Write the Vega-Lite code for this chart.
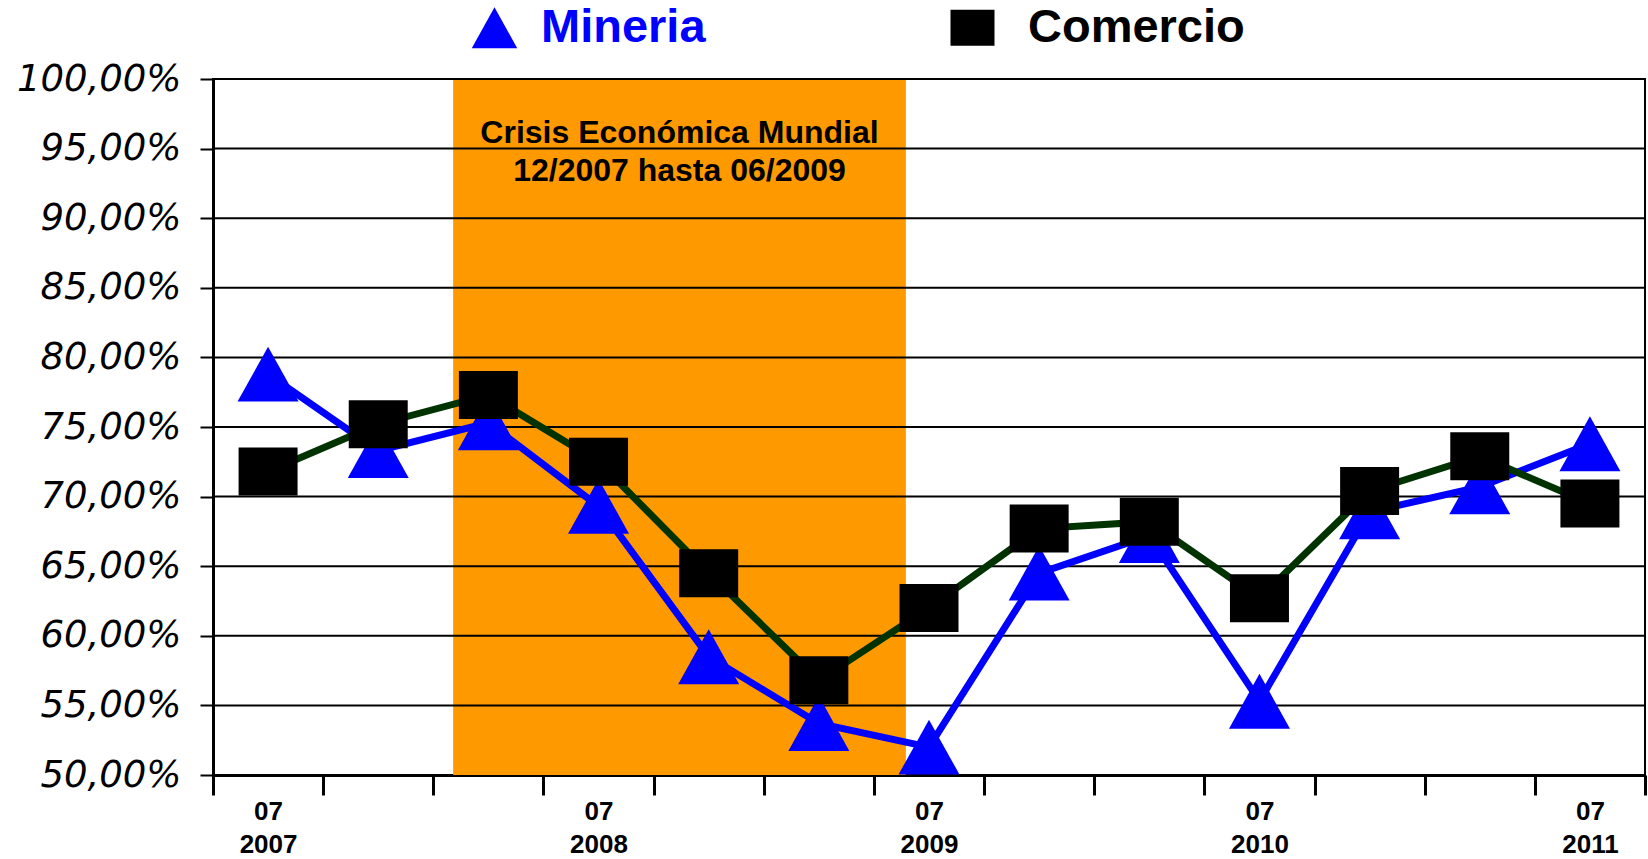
{
  "$schema": "https://vega.github.io/schema/vega-lite/v6.json",
  "width": 1432,
  "height": 696,
  "autosize": {"type": "none"},
  "padding": {"left": 213, "top": 79, "right": 3, "bottom": 84},
  "background": "white",
  "config": {"view": {"stroke": "black", "strokeWidth": 2}, "font": "Liberation Sans"},
  "datasets": {
    "serie": [
      {"periodo": "07/2007", "t": 0, "serie": "Mineria", "valor": 0.788},
      {"periodo": "11/2007", "t": 1, "serie": "Mineria", "valor": 0.733},
      {"periodo": "03/2008", "t": 2, "serie": "Mineria", "valor": 0.753},
      {"periodo": "07/2008", "t": 3, "serie": "Mineria", "valor": 0.693},
      {"periodo": "11/2008", "t": 4, "serie": "Mineria", "valor": 0.585},
      {"periodo": "03/2009", "t": 5, "serie": "Mineria", "valor": 0.537},
      {"periodo": "07/2009", "t": 6, "serie": "Mineria", "valor": 0.520},
      {"periodo": "11/2009", "t": 7, "serie": "Mineria", "valor": 0.645},
      {"periodo": "03/2010", "t": 8, "serie": "Mineria", "valor": 0.672},
      {"periodo": "07/2010", "t": 9, "serie": "Mineria", "valor": 0.553},
      {"periodo": "11/2010", "t": 10, "serie": "Mineria", "valor": 0.689},
      {"periodo": "03/2011", "t": 11, "serie": "Mineria", "valor": 0.707},
      {"periodo": "07/2011", "t": 12, "serie": "Mineria", "valor": 0.738},
      {"periodo": "07/2007", "t": 0, "serie": "Comercio", "valor": 0.718},
      {"periodo": "11/2007", "t": 1, "serie": "Comercio", "valor": 0.752},
      {"periodo": "03/2008", "t": 2, "serie": "Comercio", "valor": 0.773},
      {"periodo": "07/2008", "t": 3, "serie": "Comercio", "valor": 0.725},
      {"periodo": "11/2008", "t": 4, "serie": "Comercio", "valor": 0.645},
      {"periodo": "03/2009", "t": 5, "serie": "Comercio", "valor": 0.568},
      {"periodo": "07/2009", "t": 6, "serie": "Comercio", "valor": 0.620},
      {"periodo": "11/2009", "t": 7, "serie": "Comercio", "valor": 0.677},
      {"periodo": "03/2010", "t": 8, "serie": "Comercio", "valor": 0.682},
      {"periodo": "07/2010", "t": 9, "serie": "Comercio", "valor": 0.627},
      {"periodo": "11/2010", "t": 10, "serie": "Comercio", "valor": 0.704},
      {"periodo": "03/2011", "t": 11, "serie": "Comercio", "valor": 0.729},
      {"periodo": "07/2011", "t": 12, "serie": "Comercio", "valor": 0.695}
    ],
    "crisis": [{"t": 1.68, "t_fin": 5.79, "texto": "Crisis Económica Mundial|12/2007 hasta 06/2009"}],
    "grilla": [
      {"valor": 0.55}, {"valor": 0.6}, {"valor": 0.65}, {"valor": 0.7}, {"valor": 0.75},
      {"valor": 0.8}, {"valor": 0.85}, {"valor": 0.9}, {"valor": 0.95}, {"valor": 1.0}
    ]
  },
  "layer": [
    {
      "data": {"name": "crisis"},
      "mark": {"type": "rect", "color": "#FF9900"},
      "encoding": {
        "x": {
          "field": "t", "type": "quantitative", "title": null,
          "scale": {"domain": [-0.5, 12.5], "nice": false, "zero": false},
          "axis": {
            "values": [-0.5, 0, 0.5, 1, 1.5, 2, 2.5, 3, 3.5, 4, 4.5, 5, 5.5, 6, 6.5, 7, 7.5, 8, 8.5, 9, 9.5, 10, 10.5, 11, 11.5, 12, 12.5],
            "labelExpr": "datum.value % 3 === 0 ? ['07', '' + (2007 + datum.value / 3)] : ''",
            "tickOpacity": {"condition": {"test": "datum.value % 1 !== 0", "value": 1}, "value": 0},
            "tickSize": 20, "tickWidth": 3, "tickColor": "black",
            "domainColor": "black", "domainWidth": 3,
            "labelFont": "Liberation Sans", "labelFontSize": 26, "labelFontWeight": "bold",
            "labelColor": "black", "labelPadding": 3, "labelLineHeight": 33,
            "labelOverlap": false, "labelFlush": false, "labelBound": false,
            "grid": false, "title": null
          }
        },
        "x2": {"field": "t_fin"}
      }
    },
    {
      "data": {"name": "grilla"},
      "mark": {"type": "rule", "color": "black", "strokeWidth": 2},
      "encoding": {
        "y": {
          "field": "valor", "type": "quantitative", "title": null,
          "scale": {"domain": [0.5, 1.0], "nice": false, "zero": false},
          "axis": {
            "values": [0.5, 0.55, 0.6, 0.65, 0.7, 0.75, 0.8, 0.85, 0.9, 0.95, 1.0],
            "labelExpr": "replace(format(datum.value, '.2%'), '.', ',')",
            "grid": false, "tickSize": 13, "tickWidth": 2, "tickColor": "black",
            "domainColor": "black", "domainWidth": 3,
            "labelFont": "DejaVu Sans", "labelFontStyle": "italic", "labelFontSize": 37,
            "labelColor": "black", "labelPadding": 19, "title": null
          }
        }
      }
    },
    {
      "data": {"name": "crisis"},
      "transform": [{"calculate": "(datum.t + datum.t_fin) / 2", "as": "t_medio"}],
      "mark": {"type": "text", "font": "Liberation Sans", "fontSize": 32, "fontWeight": "bold", "color": "black", "align": "center", "baseline": "middle", "lineBreak": "|", "lineHeight": 38},
      "encoding": {
        "x": {"field": "t_medio", "type": "quantitative", "title": null},
        "y": {"datum": 0.961, "type": "quantitative", "title": null},
        "text": {"field": "texto"}
      }
    },
    {
      "data": {"name": "serie"},
      "transform": [{"filter": "datum.serie === 'Mineria'"}],
      "mark": {"type": "line", "color": "#0000FF", "strokeWidth": 7},
      "encoding": {
        "x": {"field": "t", "type": "quantitative", "title": null},
        "y": {"field": "valor", "type": "quantitative", "title": null}
      }
    },
    {
      "data": {"name": "serie"},
      "transform": [{"filter": "datum.serie === 'Mineria'"}],
      "mark": {"type": "point", "filled": true, "opacity": 1, "size": 3721, "strokeWidth": 0},
      "encoding": {
        "x": {"field": "t", "type": "quantitative", "title": null},
        "y": {"field": "valor", "type": "quantitative", "title": null},
        "fill": {
          "field": "serie", "type": "nominal",
          "scale": {"domain": ["Mineria", "Comercio"], "range": ["#0000FF", "#000000"]},
          "legend": {
            "title": null, "orient": "none", "legendX": 258, "legendY": -75, "direction": "horizontal",
            "labelFont": "Liberation Sans", "labelFontSize": 47, "labelFontWeight": "bold",
            "labelOffset": 23, "columnPadding": 243, "symbolSize": 2070, "symbolStrokeWidth": 0,
            "symbolOpacity": 1, "labelLimit": 500, "padding": 0,
            "encode": {
              "symbols": {"update": {
                "shape": {"signal": "datum.value === 'Mineria' ? 'M0,-0.667L1,0.667L-1,0.667Z' : 'M-1,-0.96H1V0.96H-1Z'"},
                "size": {"value": 2070},
                "strokeWidth": {"value": 0},
                "opacity": {"value": 1}
              }},
              "labels": {"update": {
                "fill": {"signal": "datum.value === 'Mineria' ? '#0000FF' : '#000000'"},
                "dx": {"signal": "datum.value === 'Mineria' ? 0 : 9"}
              }}
            }
          }
        },
        "shape": {
          "field": "serie", "type": "nominal",
          "scale": {"domain": ["Mineria", "Comercio"], "range": ["M0,-0.9L1,0.9L-1,0.9Z", "M-0.967,-0.787H0.967V0.787H-0.967Z"]},
          "legend": {
            "title": null, "orient": "none", "legendX": 258, "legendY": -75, "direction": "horizontal",
            "labelFont": "Liberation Sans", "labelFontSize": 47, "labelFontWeight": "bold",
            "labelOffset": 23, "columnPadding": 243, "symbolSize": 2070, "symbolStrokeWidth": 0,
            "symbolOpacity": 1, "labelLimit": 500, "padding": 0,
            "encode": {
              "symbols": {"update": {
                "shape": {"signal": "datum.value === 'Mineria' ? 'M0,-0.667L1,0.667L-1,0.667Z' : 'M-1,-0.96H1V0.96H-1Z'"},
                "size": {"value": 2070},
                "strokeWidth": {"value": 0},
                "opacity": {"value": 1}
              }},
              "labels": {"update": {
                "fill": {"signal": "datum.value === 'Mineria' ? '#0000FF' : '#000000'"},
                "dx": {"signal": "datum.value === 'Mineria' ? 0 : 9"}
              }}
            }
          }
        }
      }
    },
    {
      "data": {"name": "serie"},
      "transform": [{"filter": "datum.serie === 'Comercio'"}],
      "mark": {"type": "line", "color": "#003300", "strokeWidth": 7},
      "encoding": {
        "x": {"field": "t", "type": "quantitative", "title": null},
        "y": {"field": "valor", "type": "quantitative", "title": null}
      }
    },
    {
      "data": {"name": "serie"},
      "transform": [{"filter": "datum.serie === 'Comercio'"}],
      "mark": {"type": "point", "filled": true, "opacity": 1, "size": 3721, "strokeWidth": 0},
      "encoding": {
        "x": {"field": "t", "type": "quantitative", "title": null},
        "y": {"field": "valor", "type": "quantitative", "title": null},
        "fill": {
          "field": "serie", "type": "nominal",
          "scale": {"domain": ["Mineria", "Comercio"], "range": ["#0000FF", "#000000"]}
        },
        "shape": {
          "field": "serie", "type": "nominal",
          "scale": {"domain": ["Mineria", "Comercio"], "range": ["M0,-0.9L1,0.9L-1,0.9Z", "M-0.967,-0.787H0.967V0.787H-0.967Z"]}
        }
      }
    }
  ]
}
